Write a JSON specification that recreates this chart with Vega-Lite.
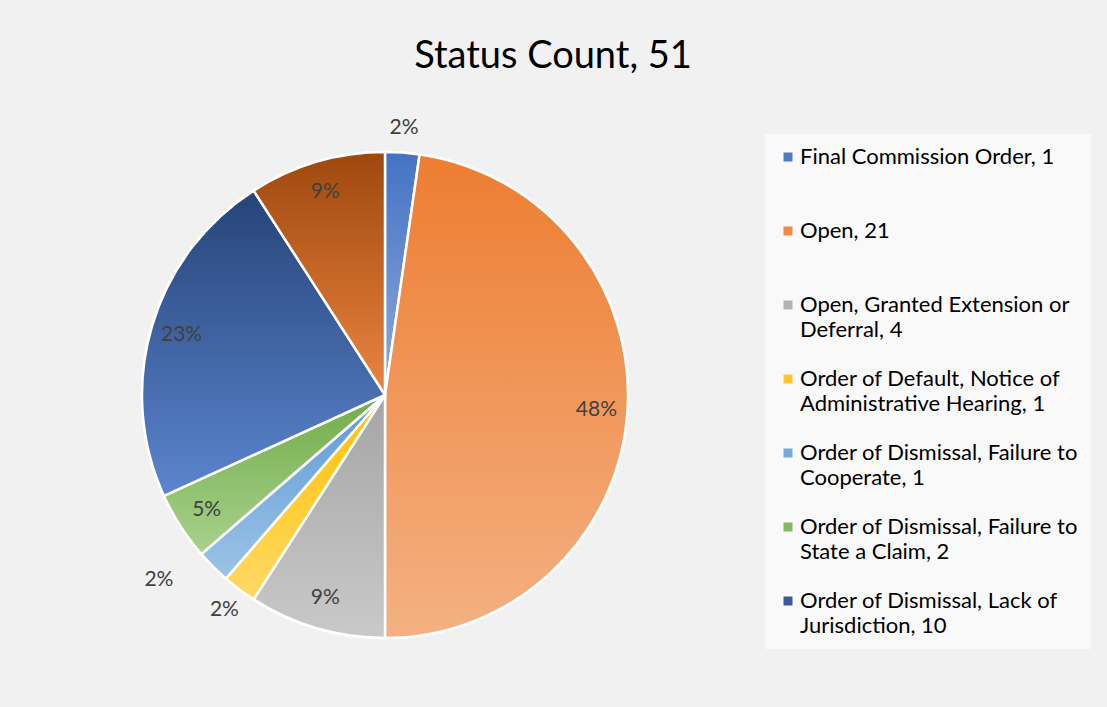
{
  "$schema": "https://vega.github.io/schema/vega-lite/v6.json",
  "autosize": "none",
  "width": 770,
  "height": 624,
  "padding": {"left": 0, "top": 83, "right": 337, "bottom": 0},
  "background": "#f1f1f1",
  "title": {
    "text": "Status Count, 51",
    "font": "Lato",
    "fontSize": 38,
    "fontWeight": "normal",
    "color": "#000000",
    "anchor": "middle",
    "frame": "group",
    "dx": 168,
    "dy": 39,
    "baseline": "alphabetic",
    "offset": 16
  },
  "config": {
    "view": {"stroke": null},
    "style": {"guide-label": {"lineHeight": 25}}
  },
  "data": {
    "values": [
      {"status": "Final Commission Order, 1", "count": 1, "pct": "2%"},
      {"status": "Open, 21", "count": 21, "pct": "48%"},
      {"status": "Open, Granted Extension or Deferral, 4", "count": 4, "pct": "9%"},
      {"status": "Order of Default, Notice of Administrative Hearing, 1", "count": 1, "pct": "2%"},
      {"status": "Order of Dismissal, Failure to Cooperate, 1", "count": 1, "pct": "2%"},
      {"status": "Order of Dismissal, Failure to State a Claim, 2", "count": 2, "pct": "5%"},
      {"status": "Order of Dismissal, Lack of Jurisdiction, 10", "count": 10, "pct": "23%"},
      {"status": "Other, 4", "count": 4, "pct": "9%"}
    ]
  },
  "transform": [{"window": [{"op": "row_number", "as": "idx"}]}],
  "layer": [
    {
      "mark": {"type": "arc", "outerRadius": 243, "stroke": "white", "strokeWidth": 2.5},
      "encoding": {
        "theta": {"field": "count", "type": "quantitative", "stack": true},
        "order": {"field": "idx", "type": "quantitative"},
        "color": {
          "field": "status",
          "type": "nominal",
          "sort": null,
          "scale": {
            "domain": [
              "Final Commission Order, 1",
              "Open, 21",
              "Open, Granted Extension or Deferral, 4",
              "Order of Default, Notice of Administrative Hearing, 1",
              "Order of Dismissal, Failure to Cooperate, 1",
              "Order of Dismissal, Failure to State a Claim, 2",
              "Order of Dismissal, Lack of Jurisdiction, 10",
              "Other, 4"
            ],
            "range": ["#4F7BC9", "#EF8B48", "#B3B3B3", "#FFC832", "#75AADB", "#83B95E", "#3A5C99", "#C0612A"]
          },
          "legend": {
            "title": null,
            "orient": "none",
            "legendX": 765,
            "legendY": 51,
            "values": [
              "Final Commission Order, 1",
              "Open, 21",
              "Open, Granted Extension or Deferral, 4",
              "Order of Default, Notice of Administrative Hearing, 1",
              "Order of Dismissal, Failure to Cooperate, 1",
              "Order of Dismissal, Failure to State a Claim, 2",
              "Order of Dismissal, Lack of Jurisdiction, 10"
            ],
            "symbolType": "square",
            "symbolSize": 81,
            "symbolStrokeWidth": 0,
            "labelFont": "Lato",
            "labelFontSize": 22,
            "labelColor": "#000000",
            "labelLimit": 400,
            "labelOffset": 1,
            "labelBaseline": "middle",
            "rowPadding": 27,
            "padding": 12,
            "fillColor": "rgba(255,255,255,0.55)",
            "labelExpr": "datum.label == 'Open, Granted Extension or Deferral, 4' ? ['Open, Granted Extension or', 'Deferral, 4'] : datum.label == 'Order of Default, Notice of Administrative Hearing, 1' ? ['Order of Default, Notice of', 'Administrative Hearing, 1'] : datum.label == 'Order of Dismissal, Failure to Cooperate, 1' ? ['Order of Dismissal, Failure to', 'Cooperate, 1'] : datum.label == 'Order of Dismissal, Failure to State a Claim, 2' ? ['Order of Dismissal, Failure to', 'State a Claim, 2'] : datum.label == 'Order of Dismissal, Lack of Jurisdiction, 10' ? ['Order of Dismissal, Lack of', 'Jurisdiction, 10'] : [datum.label, '']"
          }
        }
      }
    },
    {
      "mark": {"type": "arc", "outerRadius": 243, "stroke": "white", "strokeWidth": 2.5},
      "encoding": {
        "theta": {"field": "count", "type": "quantitative", "stack": true},
        "order": {"field": "idx", "type": "quantitative"},
        "detail": {"field": "status", "type": "nominal"},
        "fill": {
          "condition": [
            {"test": "datum.idx == 1", "value": {"gradient": "linear", "x1": 0, "y1": 0, "x2": 0, "y2": 1, "stops": [{"offset": 0, "color": "#4472C4"}, {"offset": 1, "color": "#8FAADC"}]}},
            {"test": "datum.idx == 2", "value": {"gradient": "linear", "x1": 0, "y1": 0, "x2": 0, "y2": 1, "stops": [{"offset": 0, "color": "#ED7D31"}, {"offset": 1, "color": "#F4B183"}]}},
            {"test": "datum.idx == 3", "value": {"gradient": "linear", "x1": 0, "y1": 0, "x2": 0, "y2": 1, "stops": [{"offset": 0, "color": "#A5A5A5"}, {"offset": 1, "color": "#C9C9C9"}]}},
            {"test": "datum.idx == 4", "value": {"gradient": "linear", "x1": 0, "y1": 0, "x2": 0, "y2": 1, "stops": [{"offset": 0, "color": "#FFC000"}, {"offset": 1, "color": "#FFD966"}]}},
            {"test": "datum.idx == 5", "value": {"gradient": "linear", "x1": 0, "y1": 0, "x2": 0, "y2": 1, "stops": [{"offset": 0, "color": "#5B9BD5"}, {"offset": 1, "color": "#9DC3E6"}]}},
            {"test": "datum.idx == 6", "value": {"gradient": "linear", "x1": 0, "y1": 0, "x2": 0, "y2": 1, "stops": [{"offset": 0, "color": "#70AD47"}, {"offset": 1, "color": "#A9D18E"}]}},
            {"test": "datum.idx == 7", "value": {"gradient": "linear", "x1": 0, "y1": 0, "x2": 0, "y2": 1, "stops": [{"offset": 0, "color": "#264478"}, {"offset": 1, "color": "#5B85CE"}]}}
          ],
          "value": {"gradient": "linear", "x1": 0, "y1": 0, "x2": 0, "y2": 1, "stops": [{"offset": 0, "color": "#9E480E"}, {"offset": 1, "color": "#EB8540"}]}
        }
      }
    },
    {
      "mark": {"type": "text", "radius": 212, "font": "Lato", "fontSize": 21, "color": "#404040"},
      "encoding": {
        "theta": {"field": "count", "type": "quantitative", "stack": true},
        "order": {"field": "idx", "type": "quantitative"},
        "detail": {"field": "status", "type": "nominal"},
        "text": {"condition": {"test": "datum.count == 1", "value": ""}, "field": "pct", "type": "nominal"}
      }
    },
    {
      "mark": {"type": "text", "radius": 268, "font": "Lato", "fontSize": 21, "color": "#404040"},
      "encoding": {
        "theta": {"field": "count", "type": "quantitative", "stack": true},
        "order": {"field": "idx", "type": "quantitative"},
        "detail": {"field": "status", "type": "nominal"},
        "text": {"condition": {"test": "datum.count != 1 || datum.idx == 5", "value": ""}, "field": "pct", "type": "nominal"}
      }
    },
    {
      "mark": {"type": "text", "radius": 292, "thetaOffset": 0.1, "font": "Lato", "fontSize": 21, "color": "#404040"},
      "encoding": {
        "theta": {"field": "count", "type": "quantitative", "stack": true},
        "order": {"field": "idx", "type": "quantitative"},
        "detail": {"field": "status", "type": "nominal"},
        "text": {"condition": {"test": "datum.idx != 5", "value": ""}, "field": "pct", "type": "nominal"}
      }
    }
  ]
}
